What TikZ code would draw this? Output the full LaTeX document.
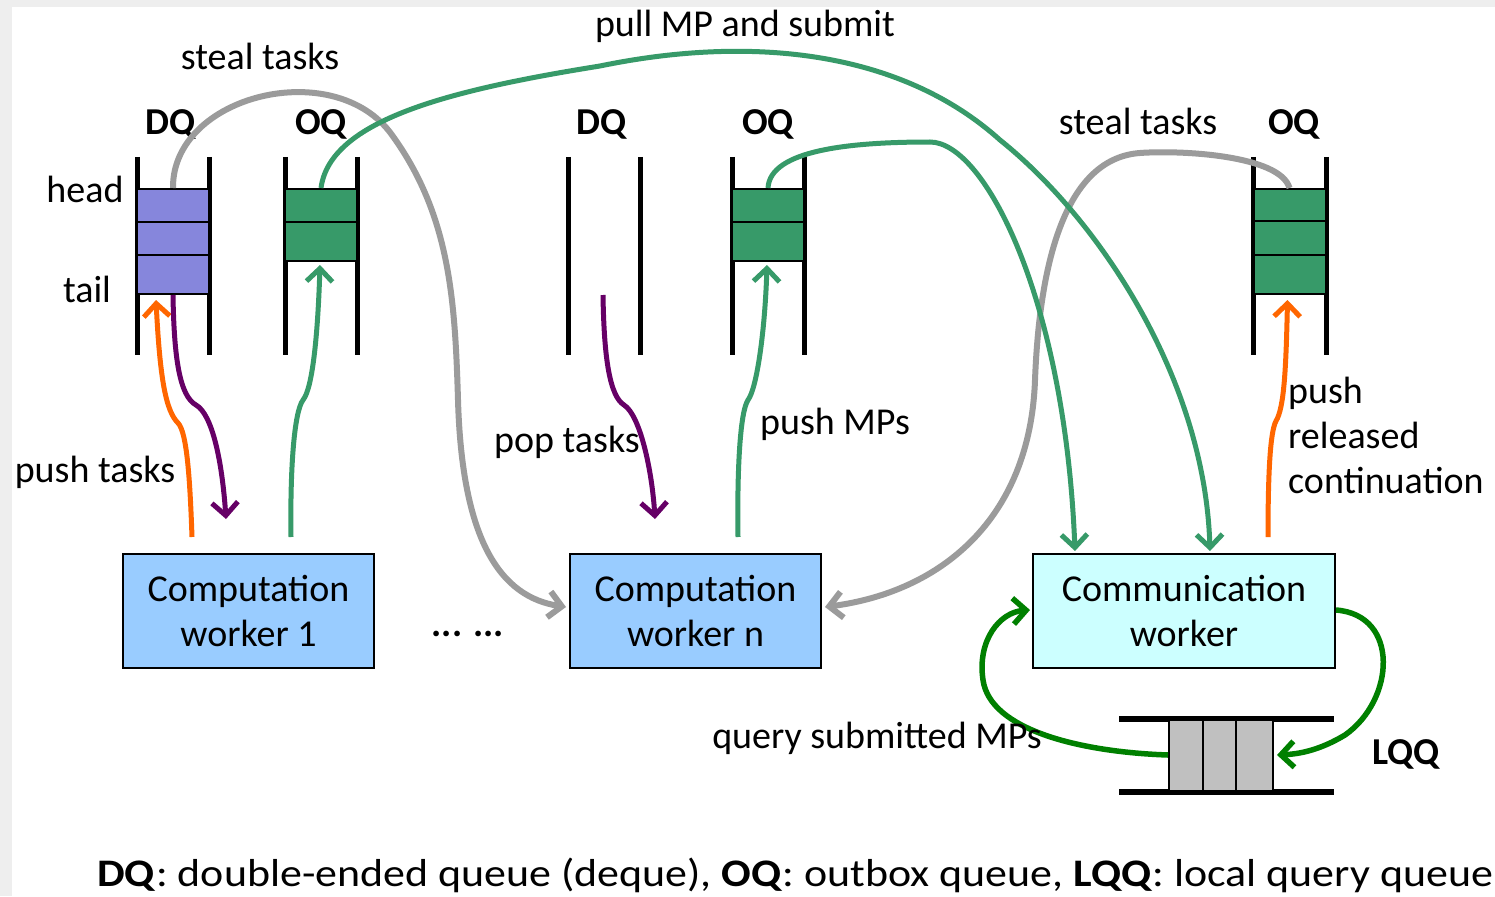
\documentclass[tikz,border=0pt]{standalone}
\usepackage{fontspec}
\usepackage{graphicx}
\setmainfont{Carlito}
\usetikzlibrary{arrows.meta,calc}
\definecolor{bggray}{RGB}{238,238,238}
\definecolor{dqfill}{RGB}{134,134,220}
\definecolor{oqgreen}{RGB}{55,154,105}
\definecolor{wfill}{RGB}{153,204,255}
\definecolor{cfill}{RGB}{204,255,255}
\definecolor{lqfill}{RGB}{192,192,192}
\definecolor{arrgray}{RGB}{155,155,155}
\definecolor{arrgreen}{RGB}{55,154,105}
\definecolor{darkgreen}{RGB}{0,128,0}
\definecolor{arrpurple}{RGB}{102,0,102}
\definecolor{arrorange}{RGB}{255,102,0}
\begin{document}
\begin{tikzpicture}[x=1pt,y=-1pt,
  lbl/.style={font=\fontsize{38}{45}\selectfont, inner sep=0pt, anchor=base},
  qlbl/.style={font=\fontsize{38}{45}\selectfont\bfseries, inner sep=0pt, anchor=base},
  wall/.style={line width=5pt},
  cell/.style={draw, line width=2pt, inner sep=0pt, minimum width=72pt},
  dqcell/.style={cell, fill=dqfill},
  oqcell/.style={cell, fill=oqgreen},
  lqcell/.style={draw, line width=2pt, inner sep=0pt, minimum height=71pt, fill=lqfill},
  worker/.style={draw, line width=2pt, inner sep=0pt, minimum height=114pt, align=center,
    font=\fontsize{38}{45}\selectfont},
  barb/.style={-{Straight Barb[length=13pt,width=26pt]}},
  garrow/.style={barb, line width=6pt, draw=arrgray},
  greenarrow/.style={barb, line width=5pt, draw=arrgreen},
  purparrow/.style={barb, line width=5pt, draw=arrpurple},
  orangearrow/.style={barb, line width=5pt, draw=arrorange},
  dgarrow/.style={barb, line width=5.5pt, draw=darkgreen}
]
\useasboundingbox (0,0) rectangle (1495,896);
\fill[bggray] (0,0) rectangle (1495,896);
\fill[white] (12,7) rectangle (1495,896);

% queue walls
\draw[wall] (137,157) -- (137,355) (209.5,157) -- (209.5,355);
\draw[wall] (285,157) -- (285,355) (357,157) -- (357,355);
\draw[wall] (568,157) -- (568,355) (640,157) -- (640,355);
\draw[wall] (732,157) -- (732,355) (804,157) -- (804,355);
\draw[wall] (1253,157) -- (1253,355) (1326,157) -- (1326,355);

% cells
\node[dqcell, minimum height=33pt] (d1a) at (173,205.5) {};
\node[dqcell, minimum height=33pt] (d1b) at (173,238.5) {};
\node[dqcell, minimum height=39pt] (d1c) at (173,274.5) {};
\node[oqcell, minimum height=33pt] (o1a) at (321,205.5) {};
\node[oqcell, minimum height=39pt] (o1b) at (321,241.5) {};
\node[oqcell, minimum height=33pt] (onA) at (768,205.5) {};
\node[oqcell, minimum height=39pt] (onB) at (768,241.5) {};
\node[oqcell, minimum height=32pt] (orA) at (1289.5,205) {};
\node[oqcell, minimum height=34pt] (orB) at (1289.5,238) {};
\node[oqcell, minimum height=39pt] (orC) at (1289.5,274.5) {};

% queue labels
\node[qlbl] (lDQ1) at (171,135) {DQ};
\node[qlbl] (lOQ1) at (321,135) {OQ};
\node[qlbl] (lDQn) at (602,135) {DQ};
\node[qlbl] (lOQn) at (768,135) {OQ};
\node[qlbl] (lOQr) at (1294,135) {OQ};
\node[lbl] (lhead) at (85,202) {head};
\node[lbl] (ltail) at (87,302) {tail};

% workers
\node[worker, fill=wfill, minimum width=251pt] (w1) at (248.5,611) {Computation\\worker 1};
\node[worker, fill=wfill, minimum width=251pt] (wn) at (695.5,611) {Computation\\worker n};
\node[worker, fill=cfill, minimum width=302pt] (cw) at (1184,611) {Communication\\worker};
\node[lbl] (dots) at (468,636) {\textbf{... ...}};

% LQQ
\draw[line width=6pt] (1119,719) -- (1334,719) (1119,792) -- (1334,792);
\node[lqcell, minimum width=34pt] (lq1) at (1186,755) {};
\node[lqcell, minimum width=33pt] (lq2) at (1219.5,755) {};
\node[lqcell, minimum width=37pt] (lq3) at (1254.5,755) {};
\node[qlbl] (lLQQ) at (1406,764) {LQQ};

% free ends
\coordinate (w1o) at (192,537);
\coordinate (w1p) at (226,519);
\coordinate (w1g) at (291,537);
\coordinate (dnp) at (603,295);
\coordinate (wnp) at (655,519);
\coordinate (wng) at (738,537);
\coordinate (cwo) at (1268,537);

% gray steal arrows
\draw[garrow] (d1a.north) .. controls (172,95) and (335,55) .. (392,135)
  .. controls (450,215) and (455,300) .. (458,400)
  .. controls (462,540) and (500,597) .. ($(wn.west)+(-3,-4)$);
\draw[garrow] (orA.north) .. controls (1280,155) and (1180,150) .. (1140,153)
  .. controls (1070,158) and (1040,250) .. (1035,380)
  .. controls (1030,520) and (940,592) .. ($(wn.east)+(3,-4)$);

% green pull MP and submit
\draw[greenarrow] (o1a.north) .. controls (330,120) and (450,90) .. (600,66)
  .. controls (750,35) and (900,50) .. (1000,140)
  .. controls (1100,220) and (1205,380) .. ($(cw.north)+(26,-2)$);
\draw[greenarrow] (onA.north) .. controls (770,150) and (850,142) .. (930,142)
  .. controls (985,142) and (1065,300) .. ($(cw.north)+(-109,-2)$);

% worker 1 arrows
\draw[orangearrow] (w1o) .. controls (190,480) and (187,432) .. (178,423)
  .. controls (166,411) and (160,380) .. ($(d1c.south)+(-17,5)$);
\draw[purparrow] (d1c.south) .. controls (174,360) and (180,396) .. (196,405)
  .. controls (212,414) and (222,460) .. (w1p);
\draw[greenarrow] (w1g) .. controls (290,470) and (294,412) .. (303,400)
  .. controls (313,388) and (318,330) .. ($(o1b.south)+(-1,3)$);

% worker n arrows
\draw[purparrow] (dnp) .. controls (604,360) and (610,396) .. (624,405)
  .. controls (640,415) and (652,470) .. (wnp);
\draw[greenarrow] (wng) .. controls (737,470) and (740,412) .. (748,400)
  .. controls (757,388) and (765,330) .. ($(onB.south)+(-1,3)$);

% communication worker arrows
\draw[orangearrow] (cwo) .. controls (1268,475) and (1270,432) .. (1276,421)
  .. controls (1284,408) and (1286,370) .. ($(orC.south)+(-2,5)$);
\draw[dgarrow] ($(cw.east)+(0,-1)$) .. controls (1400,615) and (1395,700) .. (1345,735)
  .. controls (1320,750) and (1300,754) .. ($(lq3.east)+(3,0)$);
\draw[dgarrow] (lq1.west) .. controls (1080,752) and (990,730) .. (983,680)
  .. controls (977,640) and (1000,612) .. ($(cw.west)+(-2,-1)$);

% labels
\node[lbl] (lsteal1) at (260,70) {steal tasks};
\node[lbl] (lpull) at (745,37) {pull MP and submit};
\node[lbl] (lsteal2) at (1138,135) {steal tasks};
\node[lbl] (lpusht) at (95,482) {push tasks};
\node[lbl] (lpop) at (567,452) {pop tasks};
\node[lbl] (lpushm) at (835,434) {push MPs};
\node[lbl, anchor=base west, align=left] (lpushr) at (1288,493) {push\\released\\continuation};
\node[lbl] (lquery) at (877,748) {query submitted MPs};
\node[lbl, anchor=base west, font=\fontsize{39}{45}\selectfont] (legend) at (97,886)
  {\scalebox{1.126}[1]{\textbf{DQ}: double-ended queue (deque), \textbf{OQ}: outbox queue, \textbf{LQQ}: local query queue}};
\end{tikzpicture}
\end{document}
